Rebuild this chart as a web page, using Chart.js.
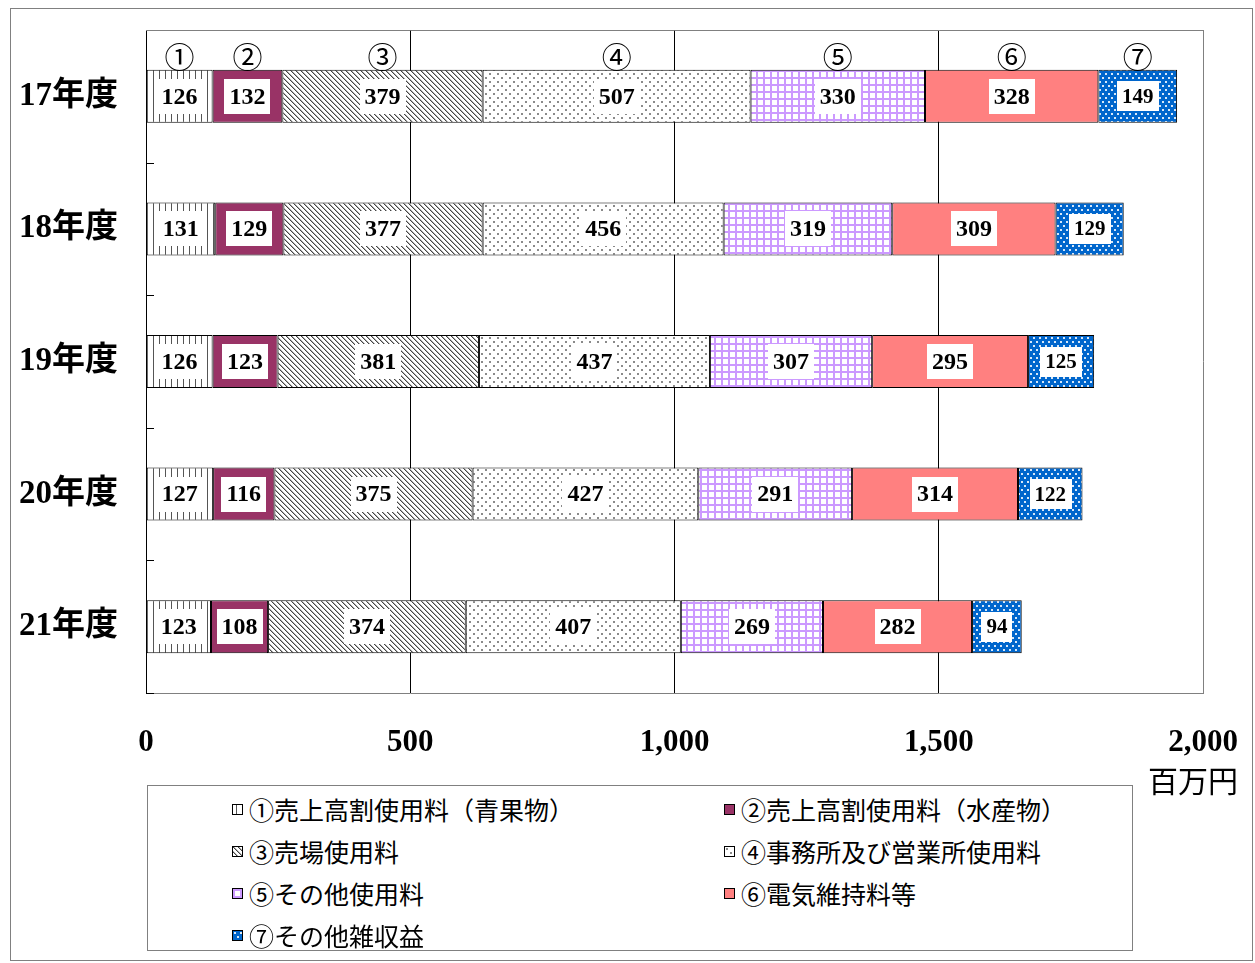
<!DOCTYPE html>
<html>
<head>
<meta charset="utf-8">
<script src="https://cdn.jsdelivr.net/npm/chart.js@4"></script>
<style>
body { margin: 0; background: #fff; }
#wrap { position: relative; width: 1255px; height: 963px; }
#frame { position: absolute; left: 10px; top: 8px; width: 1241px; height: 951px; border: 1px solid #808080; }
#myChart { position: absolute; left: 0; top: 0; }
#legend { position: absolute; left: 147px; top: 785px; width: 984px; height: 164px; border: 1px solid #808080; background: #fff;
          font-family: "Noto Sans CJK JP", sans-serif; font-size: 25px; color: #000; }
.item { position: absolute; height: 30px; line-height: 30px; white-space: nowrap; }
.item canvas { position: absolute; left: 0; top: 10px; border: 1px solid #000; }
.item span { position: absolute; left: 17px; top: 0; }
</style>
</head>
<body>
<div id="wrap">
  <div id="frame"></div>
  <canvas id="myChart" width="1255" height="963"></canvas>
  <div id="legend"></div>
</div>
<script>
var years = ['17年度', '18年度', '19年度', '20年度', '21年度'];
var seriesNames = [
    '①売上高割使用料（青果物）',
    '②売上高割使用料（水産物）',
    '③売場使用料',
    '④事務所及び営業所使用料',
    '⑤その他使用料',
    '⑥電気維持料等',
    '⑦その他雑収益'
];
var fruitShare  = [126, 131, 126, 127, 123];
var fishShare   = [132, 129, 123, 116, 108];
var floorFee    = [379, 377, 381, 375, 374];
var officeFee   = [507, 456, 437, 427, 407];
var otherFee    = [330, 319, 307, 291, 269];
var powerFee    = [328, 309, 295, 314, 282];
var otherIncome = [149, 129, 125, 122, 94];
var xTicks = [0, 500, 1000, 1500, 2000];
var unitLabel = '百万円';

// small tiles used as fill patterns
function makeTile(w, h, draw) {
    var c = document.createElement('canvas');
    c.width = w; c.height = h;
    var g = c.getContext('2d');
    draw(g, w, h);
    return c;
}

var tiles = [
    makeTile(6, 6, function(g, w, h) {          // vertical stripes
        g.fillStyle = '#fff'; g.fillRect(0, 0, w, h);
        g.fillStyle = '#555'; g.fillRect(3, 0, 1, h);
    }),
    makeTile(4, 4, function(g, w, h) {          // solid plum
        g.fillStyle = '#993366'; g.fillRect(0, 0, w, h);
    }),
    makeTile(5, 5, function(g, w, h) {          // diagonal hatch
        g.fillStyle = '#fff'; g.fillRect(0, 0, w, h);
        for (var i = 0; i < 5; i++) {
            g.fillStyle = '#444';
            g.fillRect(i, i, 1, 1);
            g.fillStyle = '#b0b0b0';
            g.fillRect((i + 1) % 5, i, 1, 1);
        }
    }),
    makeTile(8, 8, function(g, w, h) {          // sparse dots
        g.fillStyle = '#fff'; g.fillRect(0, 0, w, h);
        g.fillStyle = '#8a8a8a';
        g.fillRect(1, 1, 2, 2);
        g.fillRect(5, 5, 2, 2);
    }),
    makeTile(7, 7, function(g, w, h) {          // lilac grid
        g.fillStyle = '#fff'; g.fillRect(0, 0, w, h);
        g.fillStyle = '#cc99ff';
        g.fillRect(0, 0, 2, h);
        g.fillRect(0, 0, w, 2);
    }),
    makeTile(4, 4, function(g, w, h) {          // solid salmon
        g.fillStyle = '#ff8080'; g.fillRect(0, 0, w, h);
    }),
    makeTile(6, 8, function(g, w, h) {          // blue with white dots
        g.fillStyle = '#0066cc'; g.fillRect(0, 0, w, h);
        g.fillStyle = 'rgba(255,255,255,0.85)';
        g.fillRect(1, 1, 2, 2);
        g.fillRect(4, 5, 2, 2);
    })
];

var canvas = document.getElementById('myChart');
var ctx = canvas.getContext('2d');
var patterns = tiles.map(function(t) { return ctx.createPattern(t, 'repeat'); });

var seriesData = [fruitShare, fishShare, floorFee, officeFee, otherFee, powerFee, otherIncome];
var datasets = seriesData.map(function(d, i) {
    return {
        label: seriesNames[i],
        data: d,
        backgroundColor: patterns[i],
        borderColor: '#000',
        borderWidth: 1,
        borderSkipped: false,
        categoryPercentage: 1.0,
        barPercentage: 0.4
    };
});

// drop the extra room Chart.js reserves for overhanging tick labels
function noOverhang(scale) {
    scale.paddingLeft = 0;
    scale.paddingRight = 0;
    scale.paddingTop = 0;
    scale.paddingBottom = 0;
}

var decor = {
    id: 'decor',
    afterDatasetsDraw: function(chart) {
        var c = chart.ctx;
        var area = chart.chartArea;
        c.save();
        // top edge of the plot area
        c.strokeStyle = '#808080';
        c.lineWidth = 1;
        c.beginPath();
        c.moveTo(area.left, Math.round(area.top) + 0.5);
        c.lineTo(area.right + 0.5, Math.round(area.top) + 0.5);
        c.stroke();

        // inner ticks on the category axis
        var ys = chart.scales.y;
        c.strokeStyle = '#000';
        c.beginPath();
        for (var k = 0; k < years.length; k++) {
            var yb = k < years.length - 1
                ? Math.round((ys.getPixelForValue(k) + ys.getPixelForValue(k + 1)) / 2)
                : Math.round(area.bottom);
            c.moveTo(area.left, yb + 0.5);
            c.lineTo(area.left + 8, yb + 0.5);
        }
        c.stroke();

        // value labels on white boxes
        c.textAlign = 'center';
        c.textBaseline = 'middle';
        chart.data.datasets.forEach(function(ds, i) {
            var meta = chart.getDatasetMeta(i);
            var small = (i === 6);
            c.font = 'bold ' + (small ? 21 : 24) + 'px "Liberation Serif"';
            meta.data.forEach(function(bar, j) {
                var txt = String(ds.data[j]);
                var cx = (bar.x + bar.base) / 2;
                var w = c.measureText(txt).width + 10;
                var h = small ? 30 : 35;
                c.fillStyle = '#fff';
                c.fillRect(Math.round(cx - w / 2), Math.round(bar.y - h / 2), Math.round(w), h);
                c.fillStyle = '#000';
                c.fillText(txt, cx, bar.y + 1);
            });

            // series marker above the first bar
            var first = meta.data[0];
            c.font = '30px "Noto Sans CJK JP"';
            c.fillStyle = '#000';
            c.fillText(ds.label.charAt(0), (first.x + first.base) / 2, first.y - first.height / 2 - 13);
        });

        // unit under the last tick
        c.font = '30px "Noto Sans CJK JP"';
        c.textAlign = 'center';
        c.fillText(unitLabel, area.right - 10, area.bottom + 88);
        c.restore();
    }
};

var chart = new Chart(ctx, {
    type: 'bar',
    data: { labels: years, datasets: datasets },
    options: {
        indexAxis: 'y',
        responsive: false,
        animation: false,
        devicePixelRatio: 1,
        layout: { padding: { left: 0, top: 30, right: 52, bottom: 0 } },
        plugins: {
            legend: { display: false },
            tooltip: { enabled: false }
        },
        scales: {
            x: {
                stacked: true,
                min: xTicks[0],
                max: xTicks[xTicks.length - 1],
                afterBuildTicks: function(scale) {
                    scale.ticks = xTicks.map(function(v) { return { value: v }; });
                },
                afterFit: function(scale) { scale.height = 270; noOverhang(scale); },
                grid: {
                    drawTicks: false,
                    color: function(c) { return c.tick && c.tick.value === 2000 ? '#808080' : '#000'; }
                },
                border: { color: '#808080' },
                ticks: {
                    padding: 31,
                    color: '#000',
                    font: { family: '"Liberation Serif"', size: 31, weight: 'bold' },
                    callback: function(v) { return Number(v).toLocaleString('en-US'); }
                }
            },
            y: {
                stacked: true,
                afterFit: function(scale) { scale.width = 146; noOverhang(scale); },
                grid: { display: false },
                border: { color: '#000' },
                ticks: {
                    padding: 20,
                    color: '#000',
                    font: { family: '"Liberation Serif", "Noto Sans CJK JP"', size: 33, weight: 'bold' }
                }
            }
        }
    },
    plugins: [decor]
});

// legend in two columns
var legend = document.getElementById('legend');
seriesNames.forEach(function(name, i) {
    var item = document.createElement('div');
    item.className = 'item';
    item.style.left = (i % 2 === 0 ? 84 : 576) + 'px';
    item.style.top = (8 + Math.floor(i / 2) * 42) + 'px';
    var sw = document.createElement('canvas');
    sw.width = 9; sw.height = 9;
    var g = sw.getContext('2d');
    g.fillStyle = g.createPattern(tiles[i], 'repeat');
    g.fillRect(0, 0, 9, 9);
    var span = document.createElement('span');
    span.textContent = name;
    item.appendChild(sw);
    item.appendChild(span);
    legend.appendChild(item);
});
</script>
</body>
</html>
